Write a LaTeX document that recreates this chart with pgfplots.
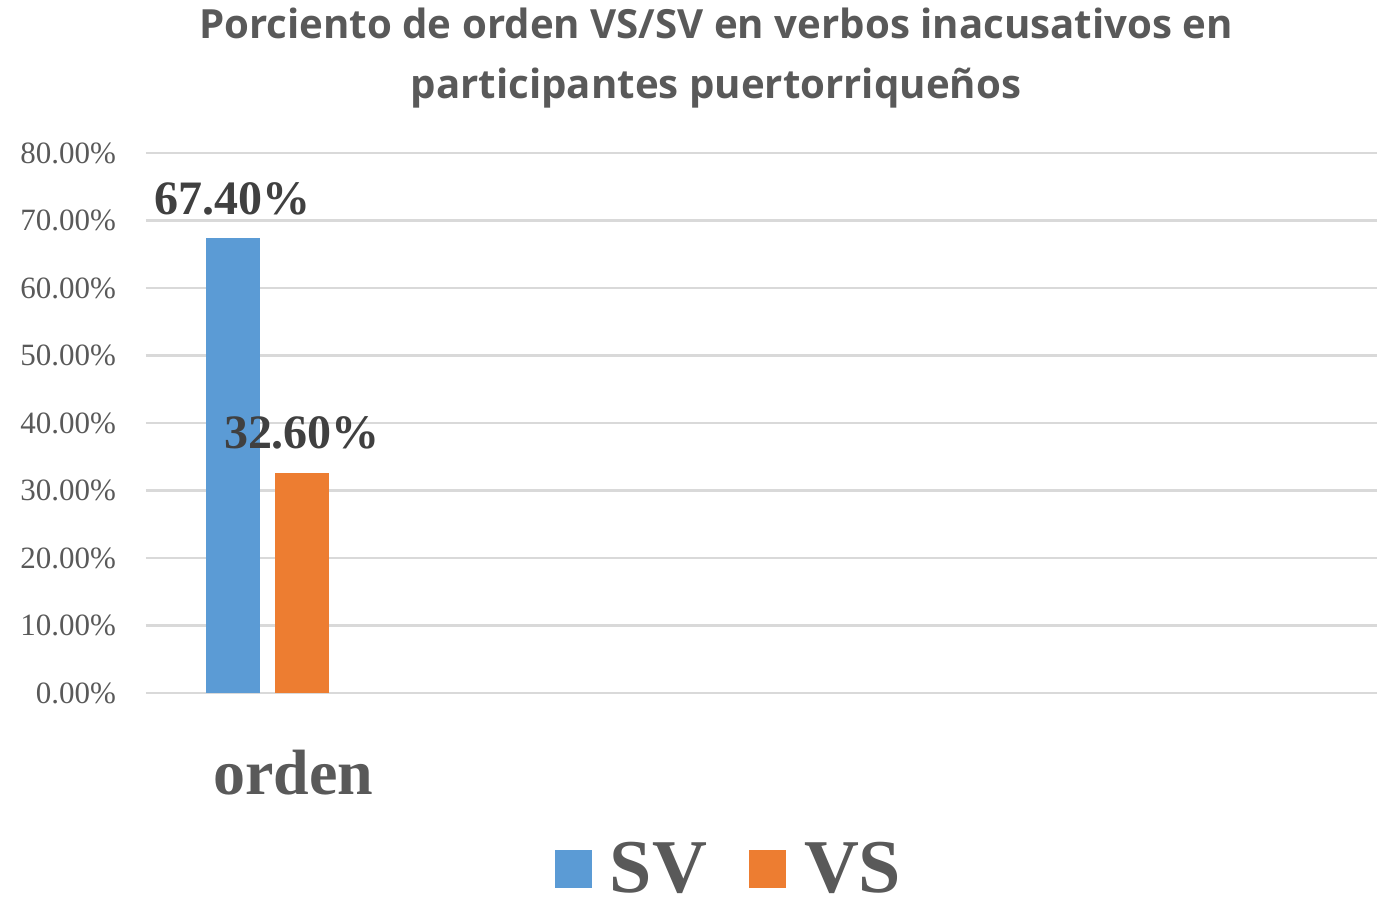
\documentclass[border=0pt]{standalone}
\usepackage{fontspec}
\setmainfont{Liberation Serif}
\newfontfamily\titlefont{Open Sans}
\usepackage{pgfplots}
\pgfplotsset{compat=1.18}
\definecolor{svblue}{HTML}{5B9BD5}
\definecolor{vsorange}{HTML}{ED7D31}
\definecolor{txtgray}{HTML}{595959}
\definecolor{lblgray}{HTML}{404040}
\definecolor{gridgray}{HTML}{D9D9D9}

\begin{document}
\begin{tikzpicture}
\begin{axis}[
    at={(0,0)}, anchor=south west,
    scale only axis,
    width=615.5pt, height=270pt,
    xmin=-121.5, xmax=1109.5,
    ymin=0, ymax=80,
    ybar, bar width=27pt,
    axis line style={draw=none},
    tick style={draw=none},
    ytick={0,10,...,80},
    ymajorgrids=true,
    grid style={gridgray, line width=1.3pt},
    /pgf/number format/assume math mode=true,
    yticklabel={\pgfmathprintnumber[fixed,fixed zerofill,precision=2]{\tick}\%},
    yticklabel style={font=\fontsize{15.5}{18}\selectfont, text=txtgray, xshift=-11.5pt},
    xtick={0},
    xticklabels={orden},
    xticklabel style={font=\fontsize{32}{36}\selectfont\bfseries, text=txtgray,
        anchor=base, xshift=13pt, yshift=-46.5pt},
    nodes near coords={\pgfmathprintnumber[fixed,fixed zerofill,precision=2]{\pgfplotspointmeta}\%},
    every node near coord/.append style={font=\fontsize{24}{28}\selectfont\bfseries,
        text=lblgray, anchor=base, yshift=12pt},
    legend columns=2,
    legend style={draw=none, fill=none, at={(292pt,-88pt)}, anchor=center,
        font=\fontsize{38}{40}\selectfont\bfseries, text=txtgray,
        inner sep=0pt,
        /tikz/every odd column/.append style={column sep=7pt},
        /tikz/every even column/.append style={column sep=19pt}},
    legend image code/.code={\fill[#1] (0pt,-9.5pt) rectangle (18.5pt,9.5pt);},
]
\addplot[draw=none, fill=svblue, bar shift=-17.25pt] coordinates {(0,67.4)};
\addplot[draw=none, fill=vsorange, bar shift=17.25pt] coordinates {(0,32.6)};
\legend{SV, VS}
\end{axis}
\node[anchor=base, text=txtgray, font=\titlefont\bfseries\fontsize{20.1}{24}\selectfont]
    at (285pt,327pt) {Porciento de orden VS/SV en verbos inacusativos en};
\node[anchor=base, text=txtgray, font=\titlefont\bfseries\fontsize{20.1}{24}\selectfont]
    at (285pt,297pt) {participantes puertorrique\~nos};
\pgfresetboundingbox
\path[use as bounding box] (-73pt,-107.5pt) rectangle (615.5pt,346.5pt);
\end{tikzpicture}
\end{document}
